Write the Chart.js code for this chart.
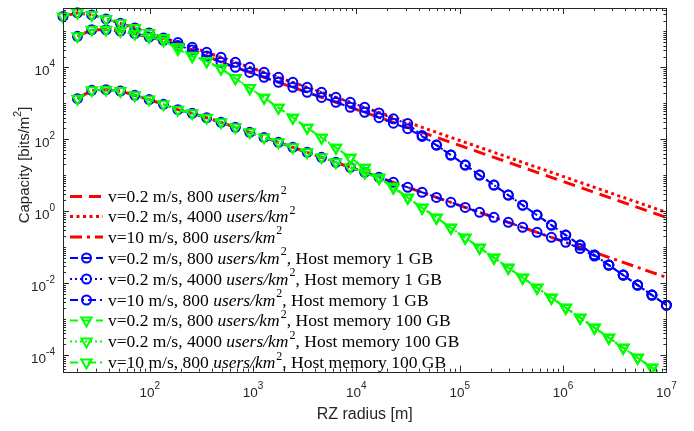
<!DOCTYPE html>
<html>
<head>
<meta charset="utf-8">
<script src="https://cdn.jsdelivr.net/npm/chart.js@4.4.0/dist/chart.umd.min.js"></script>
<style>
  html, body { margin: 0; padding: 0; background: #fff; }
</style>
</head>
<body>
<canvas id="myChart" width="694" height="431"></canvas>
<script>
// RZ radius [m]
const radius = [14.5, 20, 27.5, 37.8, 52.1, 71.8, 98.9, 136, 187.5, 258, 356, 490, 675, 929, 1279,
  1762, 2427, 3342, 4603, 6339, 8730, 12023, 16558, 22803, 31405, 43251, 59566, 82035, 112980,
  155597, 214289, 295121, 406443, 559758, 770903, 1061700, 1462177, 2013724, 2773301, 3819443,
  5260172, 7244360, 10000000];

// capacity [bits/m^2], no memory limit
const capV02U800 = [null, 7.27e4, 1.11e5, 1.11e5, 1.02e5, 8.63e4, 6.95e4, 5.62e4, 4.08e4, 3.06e4, 2.07e4,
  1.38e4, 1.0e4, 7.25e3, 5.27e3, 3.83e3, 2.78e3, 2.02e3, 1.46e3, 1.07e3, 776, 561, 407, 296, 215, 156,
  113, 81.9, 59.7, 43.4, 31.5, 22.8, 16.6, 12.0, 8.77, 6.35, 4.61, 3.35, 2.43, 1.76, 1.28, 0.93, 0.67];
const capV02U4000 = [2.61e5, 3.27e5, 2.87e5, 2.22e5, 1.67e5, 1.25e5, 9.08e4, 6.59e4, 4.9e4, 3.6e4, 2.61e4,
  1.9e4, 1.38e4, 1.0e4, 7.27e3, 5.28e3, 3.83e3, 2.78e3, 2.02e3, 1.47e3, 1.07e3, 774, 562, 408, 296, 215,
  156, 113, 82.3, 59.8, 43.4, 31.5, 22.9, 16.6, 12.1, 8.76, 6.36, 4.62, 3.35, 2.43, 1.77, 1.28, 0.93];
const capV10U800 = [null, 1.35e3, 2.3e3, 2.4e3, 2.2e3, 1.67e3, 1.27e3, 938, 668, 527, 396, 296, 215, 156,
  113, 82.3, 59.7, 43.4, 31.5, 22.9, 16.6, 12.1, 8.76, 6.36, 4.62, 3.35, 2.43, 1.77, 1.28, 0.932, 0.677,
  0.491, 0.357, 0.259, 0.188, 0.137, 0.0992, 0.072, 0.0523, 0.038, 0.0276, 0.02, 0.0145];

// host memory 1 GB
const mem1V02U800 = [null, 7.27e4, 1.11e5, 1.11e5, 1.02e5, 8.63e4, 6.95e4, 5.62e4, 4.08e4, 3.06e4, 2.07e4,
  1.38e4, 1.0e4, 7.25e3, 5.27e3, 3.83e3, 2.78e3, 2.02e3, 1.46e3, 1.07e3, 776, 561, 400, 280, 198, 120,
  69.1, 36.4, 19.2, 10.1, 5.34, 2.81, 1.48, 0.782, 0.412, 0.217, 0.115, 0.0604, 0.0319, 0.0168, 0.00885,
  0.00467, 0.00245];
const mem1V02U4000 = [2.61e5, 3.27e5, 2.87e5, 2.22e5, 1.67e5, 1.25e5, 9.08e4, 6.59e4, 4.9e4, 3.6e4, 2.61e4,
  1.9e4, 1.38e4, 1.0e4, 7.27e3, 5.28e3, 3.83e3, 2.78e3, 2.02e3, 1.47e3, 1.07e3, 774, 540, 370, 273, 127,
  69.1, 36.4, 19.2, 10.1, 5.34, 2.81, 1.48, 0.782, 0.412, 0.217, 0.115, 0.0604, 0.0319, 0.0168, 0.00885,
  0.00467, 0.00245];
const mem1V10U800 = [null, 1.35e3, 2.3e3, 2.4e3, 2.2e3, 1.67e3, 1.27e3, 938, 668, 527, 396, 296, 215, 156,
  113, 82.3, 59.7, 43.4, 31.5, 22.9, 16.6, 12.1, 8.76, 6.36, 4.62, 3.35, 2.43, 1.77, 1.28, 0.932, 0.677,
  0.491, 0.357, 0.259, 0.188, 0.137, 0.092, 0.057, 0.0319, 0.0168, 0.00885, 0.00467, 0.00245];

// host memory 100 GB
const mem100V02U800 = [null, 7.27e4, 1.11e5, 1.11e5, 1.02e5, 8.63e4, 6.95e4, 5.62e4, 3.2e4, 2.0e4, 1.45e4,
  9.2e3, 4.95e3, 2.63e3, 1437, 757, 399, 210, 111, 58.5, 30.8, 16.3, 8.57, 4.52, 2.38, 1.256, 0.662, 0.349,
  0.184, 0.0971, 0.0512, 0.027, 0.01423, 0.0075, 0.00395, 0.00208, 0.0011, 5.8e-4, 3.06e-4, 1.61e-4,
  8.49e-5, 4.48e-5, 2.35e-5];
const mem100V02U4000 = [2.61e5, 3.27e5, 2.87e5, 2.22e5, 1.67e5, 1.25e5, 9.08e4, 6.59e4, 3.6e4, 2.1e4, 1.5e4,
  9.4e3, 5.0e3, 2.65e3, 1437, 757, 399, 210, 111, 58.5, 30.8, 16.3, 8.57, 4.52, 2.38, 1.256, 0.662, 0.349,
  0.184, 0.0971, 0.0512, 0.027, 0.01423, 0.0075, 0.00395, 0.00208, 0.0011, 5.8e-4, 3.06e-4, 1.61e-4,
  8.49e-5, 4.48e-5, 2.35e-5];
const mem100V10U800 = [null, 1.35e3, 2.3e3, 2.4e3, 2.2e3, 1.67e3, 1.27e3, 938, 668, 527, 396, 296, 215, 156,
  113, 82.3, 59.7, 43.4, 31.5, 22.9, 16.6, 11.8, 8.3, 4.9, 2.38, 1.256, 0.662, 0.349, 0.184, 0.0971, 0.0512,
  0.027, 0.01423, 0.0075, 0.00395, 0.00208, 0.0011, 5.8e-4, 3.06e-4, 1.61e-4, 8.49e-5, 4.48e-5, 2.35e-5];

// labelled ticks (exponents)
const xTickExp = [2, 3, 4, 5, 6, 7];
const yTickExp = [-4, -2, 0, 2, 4];

const RED = "#ff0000", BLUE = "#0000ff", GREEN = "#00ff00", AXIS = "#262626";
const SANS = '"Liberation Sans", Arial, sans-serif';
const SERIF = '"Liberation Serif", "Times New Roman", serif';

const DASH = { red: [12, 7], redDot: [3, 3.5], redDashDot: [12, 5, 3, 5],
  dash: [8, 5], dot: [2, 3], dashDot: [8, 4, 2, 4] };

function pts(values) {
  return values.map((v, i) => ({ x: radius[i], y: v }));
}

function series(label, values, color, width, dash, marker, order) {
  return {
    label: label,
    data: pts(values),
    borderColor: color,
    borderWidth: width,
    borderDash: dash,
    pointStyle: marker || "circle",
    pointRadius: marker === "triangle" ? 6 : (marker ? 4.5 : 0),
    pointRotation: marker === "triangle" ? 180 : 0,
    pointBorderColor: color,
    pointBackgroundColor: "rgba(0,0,0,0)",
    pointBorderWidth: 2,
    tension: 0,
    order: order,
    clip: { left: 8, right: 8, top: 6, bottom: 0 },
  };
}

const datasets = [
  series("v=0.2 m/s, 800", capV02U800, RED, 3, DASH.red, null, 3),
  series("v=0.2 m/s, 4000", capV02U4000, RED, 3, DASH.redDot, null, 3),
  series("v=10 m/s, 800", capV10U800, RED, 3, DASH.redDashDot, null, 3),
  series("v=0.2 m/s, 800, 1 GB", mem1V02U800, BLUE, 2, DASH.dash, "circle", 2),
  series("v=0.2 m/s, 4000, 1 GB", mem1V02U4000, BLUE, 2, DASH.dot, "circle", 2),
  series("v=10 m/s, 800, 1 GB", mem1V10U800, BLUE, 2, DASH.dashDot, "circle", 2),
  series("v=0.2 m/s, 800, 100 GB", mem100V02U800, GREEN, 2, DASH.dash, "triangle", 1),
  series("v=0.2 m/s, 4000, 100 GB", mem100V02U4000, GREEN, 2, DASH.dot, "triangle", 1),
  series("v=10 m/s, 800, 100 GB", mem100V10U800, GREEN, 2, DASH.dashDot, "triangle", 1),
];

const legendRows = [
  ["v=0.2 m/s, 800 ", ""],
  ["v=0.2 m/s, 4000 ", ""],
  ["v=10 m/s, 800 ", ""],
  ["v=0.2 m/s, 800 ", ", Host memory 1 GB"],
  ["v=0.2 m/s, 4000 ", ", Host memory 1 GB"],
  ["v=10 m/s, 800 ", ", Host memory 1 GB"],
  ["v=0.2 m/s, 800 ", ", Host memory 100 GB"],
  ["v=0.2 m/s, 4000 ", ", Host memory 100 GB"],
  ["v=10 m/s, 800 ", ", Host memory 100 GB"],
];
const legendY = [196.5, 216.5, 237, 258, 279, 300, 320.5, 341.5, 362.5];

function drawMarker(ctx, style, x, y, color) {
  ctx.save();
  ctx.setLineDash([]);
  ctx.strokeStyle = color;
  ctx.lineWidth = 2;
  ctx.beginPath();
  if (style === "circle") {
    ctx.arc(x, y, 4.5, 0, Math.PI * 2);
  } else {
    const r = 6;
    ctx.moveTo(x, y + r);
    ctx.lineTo(x - r * 0.866, y - r * 0.5);
    ctx.lineTo(x + r * 0.866, y - r * 0.5);
    ctx.closePath();
  }
  ctx.stroke();
  ctx.restore();
}

function drawPower(ctx, exp, x, y, align) {
  const txt = String(exp);
  ctx.font = "13.5px " + SANS;
  const wb = ctx.measureText("10").width;
  ctx.font = "10px " + SANS;
  const we = ctx.measureText(txt).width;
  const left = align === "center" ? x - (wb + we) / 2 : x - wb - we;
  ctx.textAlign = "left";
  ctx.textBaseline = "middle";
  ctx.font = "13.5px " + SANS;
  ctx.fillText("10", left, y + 4);
  ctx.font = "10px " + SANS;
  ctx.fillText(txt, left + wb, y - 3);
}

const matlabAxes = {
  id: "matlabAxes",
  afterDatasetsDraw(chart) {
    const { ctx, chartArea: a, scales: { x, y } } = chart;
    ctx.save();
    ctx.strokeStyle = AXIS;
    ctx.fillStyle = AXIS;
    ctx.lineWidth = 1;
    ctx.setLineDash([]);
    ctx.strokeRect(Math.round(a.left) + 0.5, Math.round(a.top) + 0.5,
      Math.round(a.right - a.left), Math.round(a.bottom - a.top));

    // tick marks on all four sides
    ctx.beginPath();
    for (let e = 1; e <= 7; e++) {
      for (let m = 1; m <= 9; m++) {
        const v = m * Math.pow(10, e);
        if (v < x.min || v > x.max) continue;
        const px = Math.round(x.getPixelForValue(v)) + 0.5;
        const len = m === 1 ? 6 : 3;
        ctx.moveTo(px, a.bottom); ctx.lineTo(px, a.bottom - len);
        ctx.moveTo(px, a.top); ctx.lineTo(px, a.top + len);
      }
    }
    for (let e = -5; e <= 5; e++) {
      for (let m = 1; m <= 9; m++) {
        const v = m * Math.pow(10, e);
        if (v < y.min || v > y.max) continue;
        const py = Math.round(y.getPixelForValue(v)) + 0.5;
        const len = (m === 1 && e % 2 === 0) ? 6 : 3;
        ctx.moveTo(a.left, py); ctx.lineTo(a.left + len, py);
        ctx.moveTo(a.right, py); ctx.lineTo(a.right - len, py);
      }
    }
    ctx.stroke();

    // tick labels
    xTickExp.forEach(e => drawPower(ctx, e, x.getPixelForValue(Math.pow(10, e)), a.bottom + 18, "center"));
    yTickExp.forEach(e => drawPower(ctx, e, a.left - 8, y.getPixelForValue(Math.pow(10, e)), "right"));

    // axis titles
    ctx.font = "16px " + SANS;
    ctx.textAlign = "center";
    ctx.textBaseline = "middle";
    ctx.fillText("RZ radius [m]", (a.left + a.right) / 2, 415);

    ctx.save();
    ctx.translate(24.5, 165);
    ctx.rotate(-Math.PI / 2);
    const yMain = "Capacity [bits/m", yEnd = "]";
    ctx.font = "15px " + SANS;
    const w1 = ctx.measureText(yMain).width, w3 = ctx.measureText(yEnd).width;
    ctx.font = "10.5px " + SANS;
    const w2 = ctx.measureText("2").width;
    let tx = -(w1 + w2 + w3) / 2;
    ctx.textAlign = "left";
    ctx.font = "15px " + SANS;
    ctx.fillText(yMain, tx, 0);
    ctx.font = "10.5px " + SANS;
    ctx.fillText("2", tx + w1, -6);
    ctx.font = "15px " + SANS;
    ctx.fillText(yEnd, tx + w1 + w2, 0);
    ctx.restore();

    // legend
    chart.data.datasets.forEach((ds, i) => {
      const ly = legendY[i];
      ctx.save();
      ctx.strokeStyle = ds.borderColor;
      ctx.lineWidth = ds.borderWidth;
      ctx.setLineDash(ds.borderDash);
      ctx.beginPath();
      ctx.moveTo(70, ly);
      ctx.lineTo(103, ly);
      ctx.stroke();
      ctx.restore();
      if (ds.pointRadius > 0) drawMarker(ctx, ds.pointStyle, 86.5, ly, ds.borderColor);

      const [pre, post] = legendRows[i];
      let tx = 108;
      ctx.fillStyle = "#000";
      ctx.textAlign = "left";
      ctx.textBaseline = "middle";
      ctx.font = "17.5px " + SERIF;
      ctx.fillText(pre, tx, ly + 1);
      tx += ctx.measureText(pre).width;
      ctx.font = "italic 17.5px " + SERIF;
      ctx.fillText("users/km", tx, ly + 1);
      tx += ctx.measureText("users/km").width + 1;
      ctx.font = "12px " + SERIF;
      ctx.fillText("2", tx, ly - 6);
      tx += ctx.measureText("2").width;
      if (post) {
        ctx.font = "17.5px " + SERIF;
        ctx.fillText(post, tx, ly + 1);
      }
    });
    ctx.restore();
  }
};

const ctx = document.getElementById("myChart").getContext("2d");
const myChart = new Chart(ctx, {
  type: "line",
  data: { datasets: datasets },
  options: {
    responsive: false,
    animation: false,
    layout: { padding: { left: 63, right: 27.6, top: 7.5, bottom: 59.3 } },
    scales: {
      x: { type: "logarithmic", min: 14.49, max: 1e7, display: false },
      y: { type: "logarithmic", min: 3.467e-5, max: 4.467e5, display: false },
    },
    plugins: {
      legend: { display: false },
      tooltip: { enabled: false },
    },
  },
  plugins: [matlabAxes],
});
</script>
</body>
</html>
